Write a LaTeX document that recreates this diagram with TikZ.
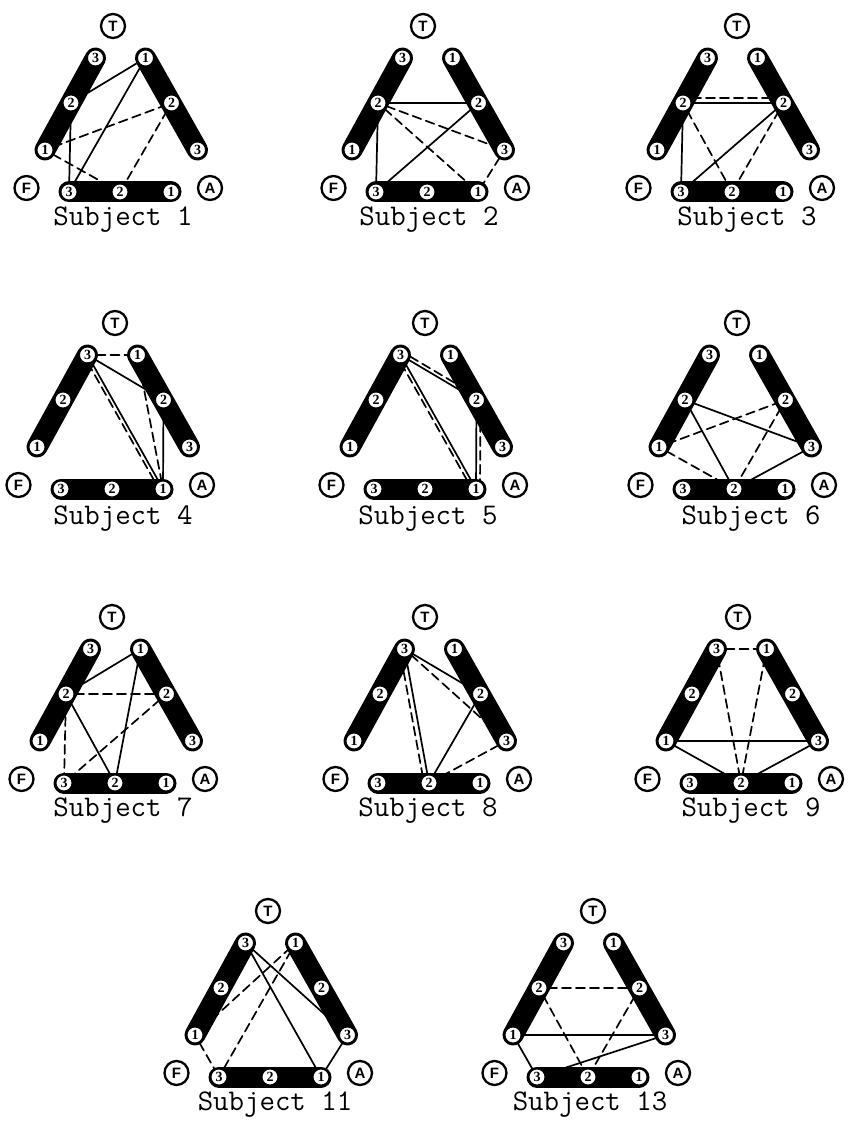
\documentclass[tikz,border=0pt]{standalone}
\usepackage{fontspec}
\newfontfamily\digitfont{Liberation Serif}
\newfontfamily\tagfont{Liberation Sans}

\tikzset{
  bar/.style={line width=21pt, line cap=round},
  num/.style={circle, draw, fill=white, line width=1.4pt, inner sep=0pt,
    minimum size=16.5pt, font=\digitfont\bfseries\fontsize{14}{14}\selectfont},
  tag/.style={circle, draw, line width=2.3pt, inner sep=0pt,
    minimum size=24pt, font=\tagfont\bfseries\fontsize{15}{15}\selectfont},
  tie/.style={line width=1.7pt},
  dtie/.style={line width=1.7pt, dash pattern=on 9pt off 5pt},
  caption/.style={font=\ttfamily\fontsize{30}{32}\selectfont}
}

% the three scales with their points, and the three tags
% (optional argument: sideways offset of the T tag)
\newcommand{\basetriad}[1][0]{%
  \draw[bar] (-75,124) -- (-24.5,32);
  \draw[bar] (25.5,32) -- (77.5,124);
  \draw[bar] (-51,166) -- (51,166);
  \node[tag] (T) at (#1,0) {T};
  \node[tag] (F) at (-93.5,162) {F};
  \node[tag] (A) at (90,162) {A};
  \node[num] (L1) at (-75,124) {1};
  \node[num] (L2) at (-49,77) {2};
  \node[num] (L3) at (-24.5,32) {3};
  \node[num] (R1) at (25.5,32) {1};
  \node[num] (R2) at (51.5,77) {2};
  \node[num] (R3) at (77.5,124) {3};
  \node[num] (B3) at (-51,166) {3};
  \node[num] (B2) at (0,166) {2};
  \node[num] (B1) at (51,166) {1};
}

\begin{document}
\begin{tikzpicture}[x=1pt, y=-1pt, line cap=round, line join=round]
  \useasboundingbox (0,0) rectangle (848,1123);

  % subject 1
  \begin{scope}[shift={(120,26)}]
    \basetriad[-7]
    \draw[tie] (L2) -- (R1);
    \draw[tie] (R1) -- (B3);
    \draw[tie] (L2) -- (B3);
    \draw[dtie] (L1) -- (R2);
    \draw[dtie] (L1) -- (B2);
    \draw[dtie] (R2) -- (B2);
    \node[caption] (s1) at (3,194) {Subject 1};
  \end{scope}

  % subject 2
  \begin{scope}[shift={(427,26)}]
    \basetriad[-4]
    \draw[tie] (L2) -- (R2);
    \draw[tie] (L2) -- (B3);
    \draw[tie] (B3) -- (R2);
    \draw[dtie] (L2) -- (R3);
    \draw[dtie] (L2) -- (B1);
    \draw[dtie] (R3) -- (B1);
    \node[caption] (s2) at (2,194) {Subject 2};
  \end{scope}

  % subject 3
  \begin{scope}[shift={(732,26)}]
    \basetriad[5]
    \draw[dtie, transform canvas={yshift=5pt}] (L2) -- (R2);
    \draw[tie] (L2) -- (R2);
    \draw[tie] (L2) -- (B3);
    \draw[tie] (B3) -- (R2);
    \draw[dtie] (L2) -- (B2);
    \draw[dtie] (R2) -- (B2);
    \node[caption] (s3) at (15,194) {Subject 3};
  \end{scope}

  % subject 4
  \begin{scope}[shift={(112,323)}]
    \basetriad[3]
    \draw[dtie] (L3) -- (R1);
    \draw[tie] (L3) -- (R2);
    \draw[tie] (L3) -- (B1);
    \draw[dtie, transform canvas={xshift=-4pt}] (L3) -- (B1);
    \draw[dtie] (R1) -- (B1);
    \draw[tie] (R2) -- (B1);
    \node[caption] (s4) at (11,196) {Subject 4};
  \end{scope}

  % subject 5
  \begin{scope}[shift={(425,323)}]
    \basetriad
    \draw[tie] (L3) -- (R2);
    \draw[dtie, transform canvas={xshift=2pt, yshift=3pt}] (L3) -- (R2);
    \draw[tie] (L3) -- (B1);
    \draw[dtie, transform canvas={xshift=-4pt}] (L3) -- (B1);
    \draw[tie] (R2) -- (B1);
    \draw[dtie, transform canvas={xshift=4pt}] (R2) -- (B1);
    \node[caption] (s5) at (3,196) {Subject 5};
  \end{scope}

  % subject 6
  \begin{scope}[shift={(734,323)}]
    \basetriad[3]
    \draw[tie] (L2) -- (R3);
    \draw[tie] (L2) -- (B2);
    \draw[tie] (R3) -- (B2);
    \draw[dtie] (L1) -- (R2);
    \draw[dtie] (L1) -- (B2);
    \draw[dtie] (R2) -- (B2);
    \node[caption] (s6) at (17,196) {Subject 6};
  \end{scope}

  % subject 7
  \begin{scope}[shift={(115,617)}]
    \basetriad[-3]
    \draw[tie] (L2) -- (R1);
    \draw[tie] (R1) -- (B2);
    \draw[tie] (L2) -- (B2);
    \draw[dtie] (L2) -- (R2);
    \draw[dtie] (L2) -- (B3);
    \draw[dtie] (R2) -- (B3);
    \node[caption] (s7) at (8,194) {Subject 7};
  \end{scope}

  % subject 8
  \begin{scope}[shift={(429,617)}]
    \basetriad[-4]
    \draw[tie] (L3) -- (R2);
    \draw[tie] (L3) -- (B2);
    \draw[dtie, transform canvas={xshift=-5pt}] (L3) -- (B2);
    \draw[dtie] (L3) -- (R3);
    \draw[tie] (R2) -- (B2);
    \draw[dtie] (R3) -- (B2);
    \node[caption] (s8) at (-1,194) {Subject 8};
  \end{scope}

  % subject 9
  \begin{scope}[shift={(741,617)}]
    \basetriad[-3]
    \draw[dtie] (L3) -- (R1);
    \draw[dtie] (L3) -- (B2);
    \draw[dtie] (R1) -- (B2);
    \draw[tie] (L1) -- (R3);
    \draw[tie] (L1) -- (B2);
    \draw[tie] (R3) -- (B2);
    \node[caption] (s9) at (10,194) {Subject 9};
  \end{scope}

  % subject 11
  \begin{scope}[shift={(270,911)}]
    \basetriad[-2]
    \draw[tie] (L3) -- (B1);
    \draw[tie] (L3) -- (R3);
    \draw[tie] (R3) -- (B1);
    \draw[dtie] (L1) -- (R1);
    \draw[dtie] (R1) -- (B3);
    \draw[dtie] (L1) -- (B3);
    \node[caption] (s11) at (5,194) {Subject 11};
  \end{scope}

  % subject 13
  \begin{scope}[shift={(588,911)}]
    \basetriad[5]
    \draw[dtie] (L2) -- (R2);
    \draw[dtie] (L2) -- (B2);
    \draw[dtie] (R2) -- (B2);
    \draw[tie] (L1) -- (R3);
    \draw[tie] (L1) -- (B3);
    \draw[tie] (B3) -- (R3);
    \node[caption] (s13) at (2,194) {Subject 13};
  \end{scope}
\end{tikzpicture}
\end{document}
